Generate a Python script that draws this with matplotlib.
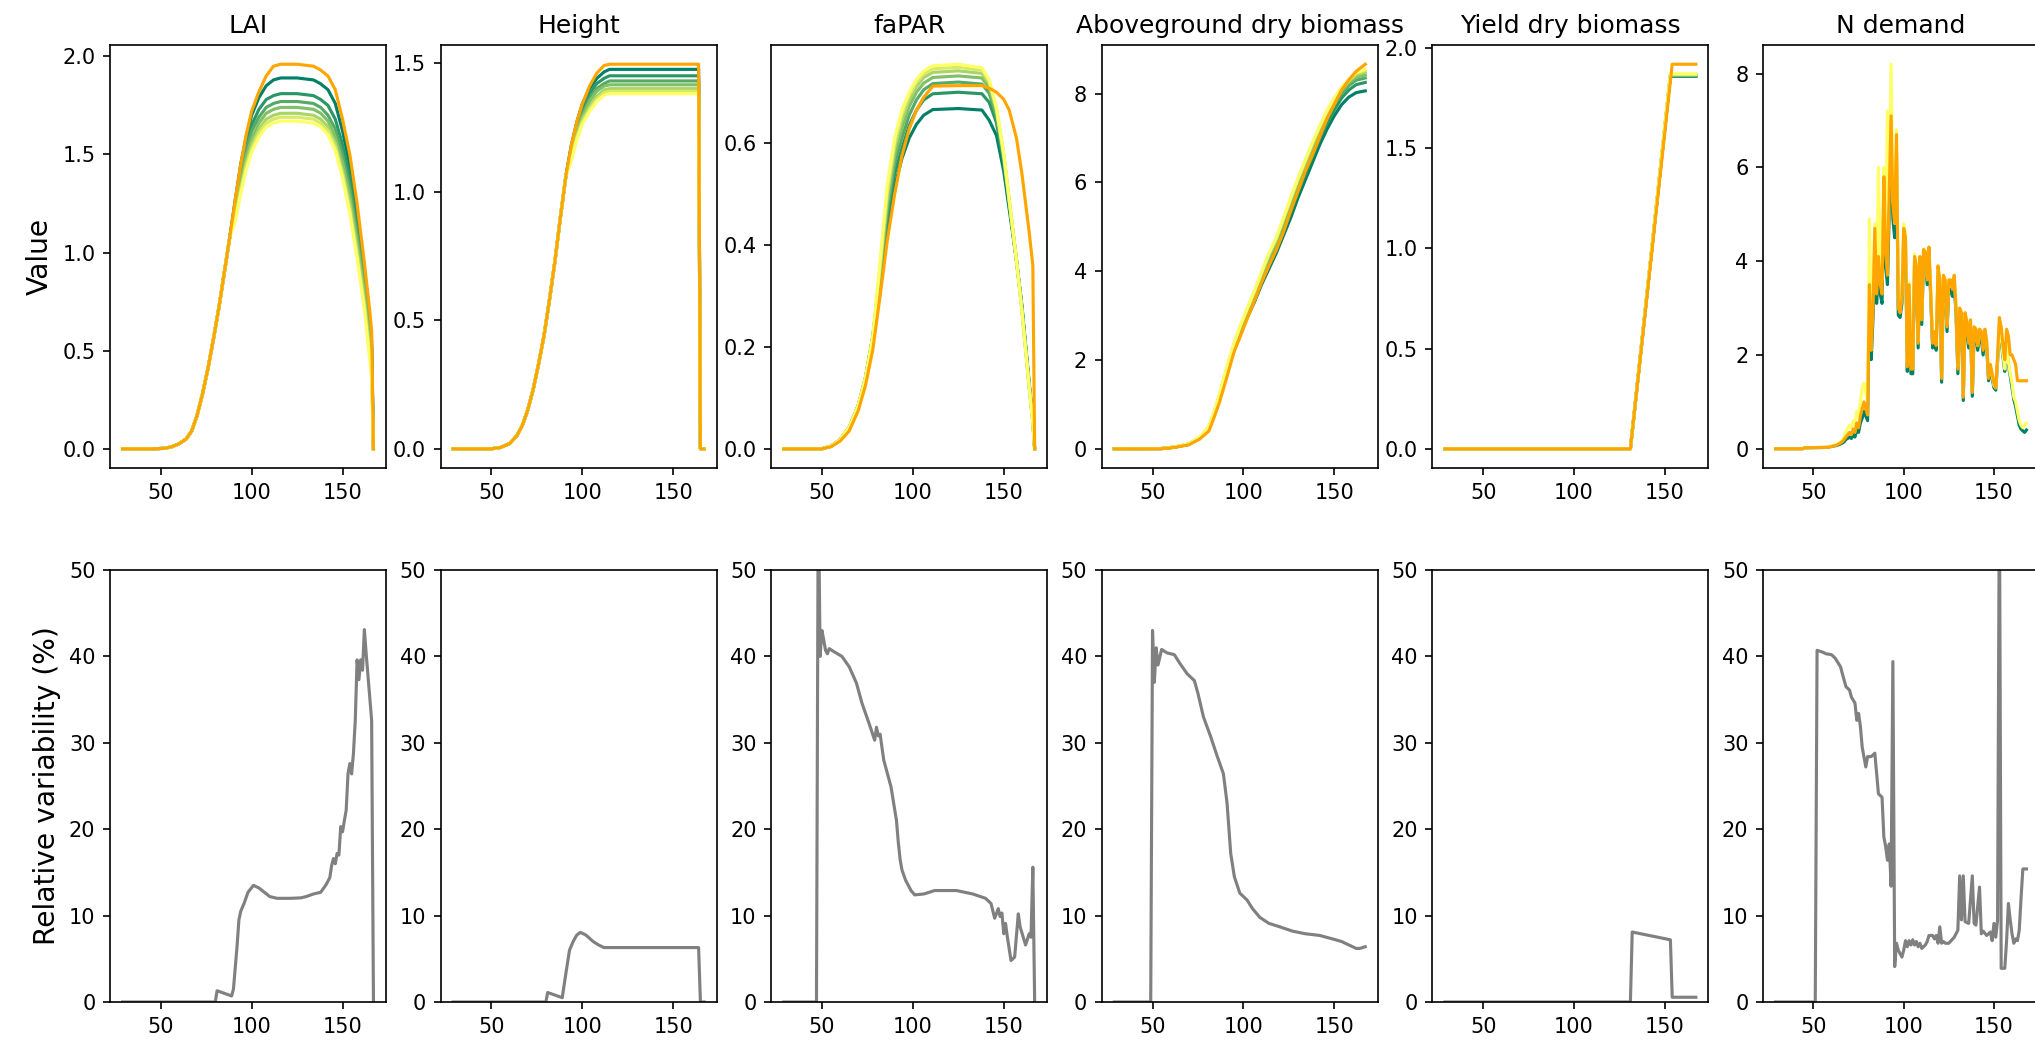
import matplotlib
matplotlib.use("Agg")
import matplotlib.pyplot as plt
from matplotlib.ticker import MaxNLocator
import numpy as np

# ---------------------------------------------------------------- LAI
lai_days = [29, 45, 52, 56, 60, 64, 67, 70, 73, 76, 79, 82, 85, 88,
            91, 94, 97, 100, 104, 108, 112, 116, 125, 134,
            138, 142, 146, 150, 154, 158, 162, 165, 166, 167]
lai_rise = [0, 0, 0.002, 0.01, 0.025, 0.05, 0.09, 0.17, 0.28, 0.41, 0.56, 0.72, 0.9, 1.08]
lai_ref = lai_rise + [1.27, 1.45, 1.60, 1.72, 1.82, 1.90, 1.95, 1.96, 1.96, 1.95,
                      1.93, 1.90, 1.83, 1.68, 1.50, 1.25, 0.95, 0.70, 0.60, 0.0]
lai_members = [
    lai_rise + [1.27, 1.45, 1.59, 1.70, 1.79, 1.85, 1.88, 1.89, 1.89, 1.88,
                1.86, 1.83, 1.76, 1.62, 1.44, 1.20, 0.92, 0.66, 0.55, 0.0],
    lai_rise + [1.25, 1.42, 1.55, 1.65, 1.73, 1.78, 1.80, 1.81, 1.81, 1.80,
                1.78, 1.75, 1.68, 1.55, 1.38, 1.15, 0.88, 0.62, 0.52, 0.0],
    lai_rise + [1.23, 1.39, 1.52, 1.62, 1.69, 1.74, 1.76, 1.77, 1.77, 1.76,
                1.74, 1.70, 1.63, 1.50, 1.33, 1.10, 0.84, 0.58, 0.48, 0.0],
    lai_rise + [1.21, 1.36, 1.49, 1.58, 1.66, 1.71, 1.73, 1.74, 1.74, 1.73,
                1.71, 1.67, 1.59, 1.46, 1.29, 1.06, 0.80, 0.54, 0.45, 0.0],
    lai_rise + [1.19, 1.33, 1.46, 1.55, 1.63, 1.68, 1.70, 1.71, 1.71, 1.70,
                1.68, 1.64, 1.56, 1.42, 1.25, 1.02, 0.76, 0.50, 0.41, 0.0],
    lai_rise + [1.18, 1.32, 1.44, 1.53, 1.61, 1.66, 1.68, 1.69, 1.69, 1.68,
                1.66, 1.62, 1.54, 1.40, 1.22, 0.99, 0.73, 0.47, 0.38, 0.0],
    lai_rise + [1.16, 1.30, 1.42, 1.51, 1.59, 1.64, 1.66, 1.67, 1.67, 1.66,
                1.64, 1.60, 1.52, 1.38, 1.20, 0.97, 0.71, 0.45, 0.36, 0.0],
]

# ---------------------------------------------------------------- Height
ht_days = [29, 50, 55, 60, 64, 67, 70, 73, 76, 79, 82, 85, 88, 91,
           94, 97, 100, 104, 108, 112, 115, 164, 165, 167]
ht_rise = [0, 0, 0.005, 0.02, 0.05, 0.09, 0.15, 0.23, 0.33, 0.44, 0.58, 0.73, 0.9, 1.06]
ht_ref = ht_rise + [1.18, 1.27, 1.34, 1.41, 1.46, 1.49, 1.495, 1.495, 0, 0]
ht_members = [
    ht_rise + [1.18, 1.27, 1.34, 1.40, 1.44, 1.465, 1.475, 1.475, 0, 0],
    ht_rise + [1.17, 1.25, 1.32, 1.38, 1.42, 1.44, 1.45, 1.45, 0, 0],
    ht_rise + [1.16, 1.24, 1.30, 1.36, 1.40, 1.42, 1.43, 1.43, 0, 0],
    ht_rise + [1.15, 1.23, 1.29, 1.35, 1.39, 1.41, 1.415, 1.415, 0, 0],
    ht_rise + [1.14, 1.22, 1.28, 1.33, 1.37, 1.395, 1.40, 1.40, 0, 0],
    ht_rise + [1.13, 1.21, 1.27, 1.32, 1.36, 1.385, 1.39, 1.39, 0, 0],
    ht_rise + [1.12, 1.20, 1.26, 1.31, 1.35, 1.375, 1.38, 1.38, 0, 0],
]

# ---------------------------------------------------------------- faPAR
fp_days = [29, 50, 55, 60, 65, 70, 74, 78,
           82, 86, 90, 94, 98, 102, 106, 111, 125, 138,
           142, 146, 150, 153, 157, 160, 164, 166, 167]
fp_ref = [0, 0, 0.004, 0.015, 0.035, 0.075, 0.125, 0.195,
          0.30, 0.41, 0.50, 0.575, 0.628, 0.665, 0.69, 0.712, 0.713, 0.713,
          0.708, 0.70, 0.686, 0.665, 0.61, 0.54, 0.425, 0.36, 0.0]
fp_rise = [0, 0, 0.005, 0.018, 0.042, 0.085, 0.14, 0.22]
fp_members = [
    fp_rise + [0.32, 0.43, 0.515, 0.57, 0.61, 0.637, 0.655, 0.666, 0.668, 0.665,
               0.645, 0.615, 0.545, 0.47, 0.37, 0.28, 0.13, 0.06, 0],
    fp_rise + [0.33, 0.45, 0.54, 0.59, 0.635, 0.665, 0.685, 0.697, 0.700, 0.697,
               0.68, 0.64, 0.56, 0.48, 0.37, 0.28, 0.125, 0.055, 0],
    fp_rise + [0.34, 0.465, 0.56, 0.61, 0.655, 0.685, 0.705, 0.717, 0.720, 0.716,
               0.698, 0.652, 0.568, 0.484, 0.37, 0.275, 0.124, 0.054, 0],
    fp_rise + [0.35, 0.48, 0.575, 0.63, 0.672, 0.70, 0.718, 0.729, 0.732, 0.728,
               0.708, 0.66, 0.573, 0.487, 0.37, 0.273, 0.122, 0.052, 0],
    fp_rise + [0.355, 0.495, 0.59, 0.645, 0.684, 0.711, 0.729, 0.739, 0.742, 0.737,
               0.716, 0.665, 0.576, 0.488, 0.37, 0.272, 0.121, 0.051, 0],
    fp_rise + [0.36, 0.505, 0.60, 0.656, 0.693, 0.719, 0.736, 0.746, 0.749, 0.743,
               0.721, 0.668, 0.578, 0.489, 0.37, 0.271, 0.12, 0.05, 0],
    fp_rise + [0.37, 0.52, 0.61, 0.665, 0.70, 0.725, 0.742, 0.752, 0.755, 0.748,
               0.725, 0.67, 0.58, 0.49, 0.37, 0.27, 0.12, 0.05, 0],
]

# ---------------------------------------------------------------- Aboveground dry biomass
agb_days = [29, 55, 62, 70, 76, 81, 84, 87, 91, 95,
            98, 102, 106, 110, 114, 118, 122, 126, 130, 134,
            138, 142, 146, 150, 154, 158, 162, 167]
agb_ref = [0, 0, 0.03, 0.09, 0.22, 0.40, 0.72, 1.07, 1.63, 2.20,
           2.50, 2.92, 3.32, 3.74, 4.12, 4.47, 4.88, 5.36, 5.80, 6.25,
           6.62, 7.03, 7.43, 7.76, 8.08, 8.31, 8.50, 8.66]
agb_members = [
    [0, 0.005, 0.035, 0.10, 0.24, 0.45, 0.78, 1.15, 1.72, 2.25,
     2.55, 2.95, 3.30, 3.70, 4.05, 4.40, 4.80, 5.20, 5.65, 6.05,
     6.45, 6.85, 7.20, 7.50, 7.75, 7.92, 8.02, 8.06],
    [0, 0.005, 0.036, 0.10, 0.245, 0.46, 0.79, 1.17, 1.75, 2.28,
     2.60, 3.00, 3.37, 3.78, 4.15, 4.50, 4.92, 5.33, 5.78, 6.18,
     6.58, 6.98, 7.33, 7.63, 7.90, 8.08, 8.20, 8.25],
    [0, 0.005, 0.037, 0.105, 0.25, 0.47, 0.81, 1.19, 1.78, 2.31,
     2.64, 3.05, 3.43, 3.85, 4.24, 4.59, 5.02, 5.45, 5.90, 6.30,
     6.70, 7.10, 7.45, 7.75, 8.00, 8.18, 8.30, 8.35],
    [0, 0.005, 0.038, 0.105, 0.252, 0.48, 0.82, 1.21, 1.80, 2.34,
     2.68, 3.09, 3.48, 3.90, 4.30, 4.65, 5.10, 5.53, 5.98, 6.38,
     6.78, 7.17, 7.52, 7.81, 8.06, 8.24, 8.37, 8.42],
    [0, 0.005, 0.039, 0.108, 0.255, 0.49, 0.835, 1.23, 1.82, 2.37,
     2.71, 3.12, 3.52, 3.94, 4.35, 4.70, 5.15, 5.60, 6.04, 6.44,
     6.84, 7.23, 7.58, 7.86, 8.10, 8.28, 8.42, 8.48],
    [0, 0.005, 0.04, 0.11, 0.258, 0.495, 0.845, 1.24, 1.84, 2.39,
     2.73, 3.14, 3.54, 3.97, 4.38, 4.73, 5.18, 5.63, 6.08, 6.48,
     6.88, 7.26, 7.61, 7.89, 8.12, 8.30, 8.46, 8.52],
    [0, 0.005, 0.04, 0.11, 0.26, 0.50, 0.85, 1.25, 1.85, 2.40,
     2.75, 3.15, 3.55, 3.98, 4.40, 4.75, 5.20, 5.65, 6.10, 6.50,
     6.90, 7.28, 7.62, 7.90, 8.14, 8.32, 8.47, 8.55],
]

# ---------------------------------------------------------------- Yield dry biomass
yld_days = [29, 131, 154, 167]
yld_ref = [0, 0, 1.92, 1.92]
yld_member_days = [29, 131, 153, 167]
yld_members = [
    [0, 0, 1.860, 1.860],
    [0, 0, 1.862, 1.862],
    [0, 0, 1.864, 1.864],
    [0, 0, 1.866, 1.866],
    [0, 0, 1.868, 1.868],
    [0, 0, 1.870, 1.870],
    [0, 0, 1.872, 1.872],
]

# ---------------------------------------------------------------- N demand
nd_days = [29, 44, 45, 58, 60, 63] + list(range(66, 169))
nd_ref = [0, 0, 0.02, 0.03, 0.05, 0.08,
          0.15, 0.2, 0.25, 0.3, 0.35, 0.3, 0.42, 0.35, 0.55, 0.45,      # 66-75
          0.7, 0.85, 1.0, 0.85, 0.72, 3.5, 2.1, 3.0, 4.7, 3.3,          # 76-85
          4.1, 3.5, 3.3, 5.8, 4.2, 3.7, 5.5, 7.1, 5.2, 4.8,             # 86-95
          6.7, 3.0, 2.9, 3.2, 4.7, 4.5, 1.75, 3.5, 1.7, 1.7,            # 96-105
          4.1, 3.9, 2.25, 4.1, 2.75, 4.25, 4.2, 3.6, 4.3, 3.3,          # 106-115
          2.25, 2.5, 2.2, 3.9, 3.6, 1.5, 3.7, 3.6, 2.6, 3.6,            # 116-125
          3.6, 3.4, 3.7, 3.0, 1.7, 3.0, 2.9, 1.1, 2.9, 2.7,             # 126-135
          2.25, 2.75, 1.2, 2.6, 2.55, 2.2, 2.55, 2.5, 2.1, 2.55,        # 136-145
          2.3, 1.5, 1.8, 1.6, 1.4, 1.3, 2.0, 2.8, 2.6, 2.2,             # 146-155
          1.9, 2.55, 2.4, 2.0, 2.0, 1.9, 1.8, 1.45, 1.45, 1.45,         # 156-165
          1.45, 1.45, 1.45]                                             # 166-168
nd_low = [0, 0, 0.02, 0.03, 0.05, 0.07,
          0.12, 0.15, 0.2, 0.22, 0.25, 0.22, 0.3, 0.25, 0.4, 0.35,
          0.55, 0.65, 0.8, 0.7, 0.6, 3.2, 1.9, 2.8, 4.4, 3.1,
          3.8, 3.3, 3.1, 5.4, 3.9, 3.5, 5.1, 6.6, 4.9, 4.5,
          6.3, 2.85, 2.8, 3.1, 4.5, 4.3, 1.65, 3.3, 1.6, 1.6,
          3.9, 3.7, 2.15, 3.9, 2.65, 4.05, 4.0, 3.5, 4.1, 3.2,
          2.15, 2.4, 2.1, 3.7, 3.4, 1.42, 3.5, 3.4, 2.5, 3.4,
          3.4, 3.25, 3.5, 2.85, 1.6, 2.85, 2.75, 1.03, 2.75, 2.55,
          2.15, 2.6, 1.12, 2.45, 2.4, 2.1, 2.4, 2.35, 2.0, 2.4,
          2.15, 1.45, 1.7, 1.5, 1.3, 1.25, 1.85, 2.5, 2.3, 1.95,
          1.65, 2.1, 1.8, 1.55, 1.3, 1.05, 0.9, 0.7, 0.5, 0.42,
          0.38, 0.35, 0.4]
nd_high = [0, 0, 0.02, 0.035, 0.06, 0.09,
           0.18, 0.25, 0.35, 0.45, 0.5, 0.45, 0.6, 0.5, 0.8, 0.7,
           1.0, 1.3, 1.4, 1.2, 1.0, 4.9, 2.5, 3.4, 4.8, 3.6,
           6.0, 4.0, 3.6, 6.0, 4.5, 7.2, 5.6, 8.2, 5.3, 5.0,
           6.8, 3.2, 3.0, 3.3, 4.8, 4.6, 1.85, 3.55, 1.8, 1.8,
           4.15, 3.95, 2.3, 4.1, 2.8, 4.25, 4.2, 3.65, 4.3, 3.35,
           2.3, 2.5, 2.25, 3.9, 3.6, 1.55, 3.7, 3.6, 2.65, 3.6,
           3.6, 3.45, 3.7, 3.0, 1.75, 3.0, 2.9, 1.15, 2.9, 2.7,
           2.3, 2.75, 1.25, 2.6, 2.55, 2.2, 2.55, 2.5, 2.15, 2.5,
           2.25, 1.55, 1.75, 1.55, 1.35, 1.3, 1.9, 2.6, 2.4, 2.0,
           1.7, 2.2, 1.85, 1.6, 1.4, 1.1, 1.0, 0.8, 0.6, 0.5,
           0.45, 0.5, 0.55]
nd_members = [nd_low, nd_high]

# ---------------------------------------------------------------- relative variability (%)
lai_var_days = [29, 80, 81, 89, 90, 91, 92, 93, 94, 96,
                98, 101, 104, 107, 110, 114, 121, 127, 130, 134,
                138, 141, 143, 144, 145, 146, 147, 148, 149, 150,
                151, 152, 153, 154, 155, 156, 157, 158, 159, 160,
                161, 162, 163, 166, 167]
lai_var = [0, 0, 1.3, 0.7, 1.5, 4.0, 6.5, 9.5, 10.5, 11.5,
           12.7, 13.5, 13.2, 12.7, 12.2, 12.0, 12.0, 12.05, 12.2, 12.5,
           12.7, 13.6, 14.4, 15.8, 16.6, 16.0, 17.2, 17.0, 20.3, 19.7,
           21.0, 22.2, 26.4, 27.6, 26.4, 28.8, 32.6, 39.6, 37.3, 39.6,
           38.4, 43.1, 40.3, 32.6, 0]

ht_var_days = [29, 80, 81, 89, 91, 93, 95, 97, 99, 102, 106, 109, 112, 164, 165, 167]
ht_var = [0, 0, 1.1, 0.5, 3.3, 6.0, 7.0, 7.75, 8.06, 7.75, 7.0, 6.6, 6.3, 6.3, 0, 0]

fp_var_days = [29, 47, 48, 49, 50, 51, 52, 53, 54, 57,
               61, 65, 69, 72, 76, 79, 80, 81, 82, 84,
               88, 91, 92, 93, 94, 96, 99, 101, 106, 112,
               124, 133, 140, 143, 145, 147, 148, 149, 150, 151,
               152, 154, 155, 156, 158, 159, 162, 164, 165, 166,
               167]
fp_var = [0, 0, 60, 40, 43, 41.9, 40.7, 40.3, 40.9, 40.5,
          40, 38.8, 36.9, 34.6, 32.2, 30.3, 31.8, 30.8, 31.0, 28,
          24.9, 21, 18.5, 16.5, 15.3, 14.1, 12.9, 12.4, 12.5, 12.9,
          12.9, 12.5, 12, 11.4, 9.7, 10.8, 9.9, 10.3, 7.9, 9.1,
          7.5, 4.8, 5.0, 5.2, 10.2, 8.7, 6.6, 7.9, 7.5, 15.6,
          0]

agb_var_days = [29, 49, 50, 51, 52, 53, 55, 58, 62, 65,
                69, 73, 75, 78, 82, 85, 89, 91, 93, 95,
                98, 102, 105, 109, 114, 120, 127, 134, 142, 149,
                154, 158, 162, 164, 167]
agb_var = [0, 0, 43, 37, 41, 39, 40.8, 40.4, 40.2, 39.2,
           38, 37.2, 35.7, 33, 30.7, 28.8, 26.4, 23, 17.2, 14.5,
           12.6, 11.8, 10.8, 9.8, 9.1, 8.7, 8.2, 7.9, 7.7, 7.3,
           7.0, 6.6, 6.2, 6.2, 6.4]

yld_var_days = [29, 131, 132, 153, 154, 167]
yld_var = [0, 0, 8.1, 7.2, 0.55, 0.55]

nd_var_days = [29, 51, 52, 55, 57, 60, 62, 65, 66, 68,
               70, 71, 73, 74, 75, 76, 77, 79, 80, 82,
               84, 86, 88, 89, 90, 91, 92, 93, 94, 95,
               96, 97, 98, 99, 100, 101, 102, 103, 104, 105,
               106, 107, 108, 109, 110, 111, 112, 113, 114, 115,
               116, 117, 118, 119, 120, 121, 122, 123, 125, 128,
               130, 131, 132, 133, 134, 136, 138, 139, 140, 142,
               143, 144, 146, 148, 149, 150, 151, 152, 153, 154,
               156, 157, 158, 159, 160, 161, 162, 163, 164, 165,
               166, 168]
nd_var = [0, 0, 40.7, 40.5, 40.3, 40.2, 39.8, 38.8, 38.0, 36.5,
          36.1, 35.3, 34.6, 32.6, 33.4, 31.9, 29.5, 27.2, 28.4, 28.4,
          28.8, 24.1, 23.7, 19.1, 18.0, 16.4, 18.3, 13.4, 39.4, 4.1,
          6.8, 6.0, 5.6, 5.2, 6.0, 7.1, 6.4, 7.1, 6.6, 7.2,
          6.6, 7.0, 6.4, 6.8, 6.2, 6.4, 6.6, 7.0, 7.7, 7.7,
          7.7, 7.3, 7.7, 6.8, 8.7, 6.8, 7.0, 6.8, 6.8, 7.5,
          8.3, 14.6, 9.5, 14.6, 9.3, 9.1, 14.6, 9.1, 8.9, 13.3,
          7.9, 8.2, 7.7, 8.1, 7.1, 9.1, 7.5, 9.5, 60, 3.9,
          3.9, 7.1, 11.4, 9.5, 7.9, 6.8, 7.3, 7.1, 8.3, 12.0,
          15.4, 15.4]

titles = ["LAI", "Height", "faPAR", "Aboveground dry biomass",
          "Yield dry biomass", "N demand"]

top_panels = [
    (lai_days, lai_days, lai_members, lai_ref),
    (ht_days, ht_days, ht_members, ht_ref),
    (fp_days, fp_days, fp_members, fp_ref),
    (agb_days, agb_days, agb_members, agb_ref),
    (yld_member_days, yld_days, yld_members, yld_ref),
    (nd_days, nd_days, nd_members, nd_ref),
]
bottom_panels = [
    (lai_var_days, lai_var), (ht_var_days, ht_var), (fp_var_days, fp_var),
    (agb_var_days, agb_var), (yld_var_days, yld_var), (nd_var_days, nd_var),
]

# ---------------------------------------------------------------- figure
W, H, DPI = 2035, 1048, 150
fig = plt.figure(figsize=(W / DPI, H / DPI), dpi=DPI)

col_left = 110.0
col_step = 330.6
ax_w = 276.0
top_row = (45.0, 468.0)
bot_row = (570.0, 1002.0)
tick_steps = [1, 2, 2.5, 5, 10]


def place(ax, left, top, bottom):
    ax.set_position([left / W, 1 - bottom / H, ax_w / W, (bottom - top) / H])


for i in range(6):
    left = col_left + i * col_step

    ax = fig.add_axes([0, 0, 1, 1])
    place(ax, left, *top_row)
    mdays, rdays, members, ref = top_panels[i]
    colors = plt.cm.summer(np.linspace(0, 1, len(members)))
    for vals, c in zip(members, colors):
        ax.plot(mdays, vals, color=c, lw=1.5)
    ax.plot(rdays, ref, color="orange", lw=1.5)
    ax.yaxis.set_major_locator(MaxNLocator(nbins=5, steps=tick_steps))
    ax.set_title(titles[i], fontsize=12)
    if i == 0:
        ax.set_ylabel("Value", fontsize=13.5)

    axb = fig.add_axes([0, 0, 1, 1])
    place(axb, left, *bot_row)
    vdays, vvals = bottom_panels[i]
    axb.plot(vdays, vvals, color="gray", lw=1.5)
    axb.set_ylim(0, 50)
    axb.set_xlim(ax.get_xlim())
    axb.yaxis.set_major_locator(MaxNLocator(nbins=5, steps=tick_steps))
    if i == 0:
        axb.set_ylabel("Relative variability (%)", fontsize=13.5)

fig.savefig("out.png", dpi=DPI)
